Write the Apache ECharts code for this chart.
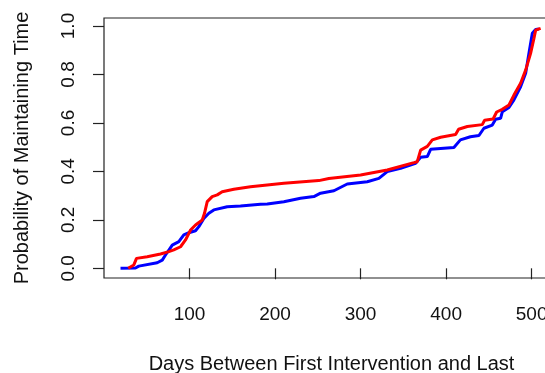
<!DOCTYPE html>
<html>
<head>
<meta charset="utf-8">
<script src="https://cdn.jsdelivr.net/npm/echarts@6/dist/echarts.min.js"></script>
<style>html,body{margin:0;padding:0;background:#fff}#c{width:545px;height:373px}</style>
</head>
<body>
<div id="c"></div>
<script>
const xTicks = [100, 200, 300, 400, 500];
const yTicks = [0, 0.2, 0.4, 0.6, 0.8, 1.0];

const blueX = [19.3, 36.8, 40.7, 62.2, 68.1, 71.9, 79.8, 87.5, 93.3, 99.2, 107.0, 110.9, 116.7, 122.6, 128.4, 144.1, 159.6, 183.0, 190.9, 210.3, 229.8, 245.4, 253.2, 268.8, 284.4, 307.8, 321.4, 331.2, 346.8, 364.3, 370.2, 378.0, 381.9, 409.1, 416.7, 428.4, 438.4, 444.2, 454.0, 457.9, 463.7, 465.7, 473.5, 479.3, 487.1, 493.0, 496.8, 500.8, 504.7, 508.5];
const blueY = [0.000, 0.001, 0.009, 0.023, 0.034, 0.055, 0.096, 0.110, 0.138, 0.147, 0.155, 0.172, 0.206, 0.227, 0.241, 0.254, 0.257, 0.264, 0.265, 0.275, 0.289, 0.296, 0.310, 0.320, 0.348, 0.357, 0.371, 0.399, 0.413, 0.433, 0.458, 0.461, 0.491, 0.499, 0.530, 0.543, 0.548, 0.578, 0.591, 0.615, 0.619, 0.646, 0.664, 0.695, 0.749, 0.805, 0.887, 0.970, 0.986, 0.988];

const redX = [28.3, 34.9, 38.0, 50.5, 66.1, 75.8, 81.6, 89.5, 95.3, 101.2, 107.0, 114.9, 117.5, 120.7, 126.5, 132.4, 138.2, 151.8, 171.3, 210.3, 251.2, 262.9, 300.0, 331.2, 362.3, 366.3, 370.2, 378.0, 383.9, 393.6, 411.1, 414.6, 424.8, 442.3, 445.0, 455.0, 459.1, 465.7, 473.5, 479.3, 487.1, 493.0, 498.8, 502.7, 504.7, 510.5];
const redY = [0.000, 0.014, 0.041, 0.048, 0.059, 0.069, 0.076, 0.089, 0.117, 0.158, 0.179, 0.199, 0.227, 0.275, 0.296, 0.303, 0.316, 0.326, 0.337, 0.351, 0.362, 0.371, 0.385, 0.406, 0.436, 0.440, 0.488, 0.503, 0.530, 0.541, 0.552, 0.574, 0.585, 0.593, 0.611, 0.616, 0.645, 0.656, 0.674, 0.715, 0.764, 0.818, 0.887, 0.949, 0.983, 0.990];

const xTitle = 'Days Between First Intervention and Last';
const yTitle = 'Probability of Maintaining Time';

const pairs = (xs, ys) => xs.map((x, i) => [x, ys[i]]);
const font = 'Liberation Sans, Arial, Helvetica, sans-serif';
const ink = '#222';

const chart = echarts.init(document.getElementById('c'), null, {renderer: 'canvas'});
chart.setOption({
  animation: false,
  backgroundColor: '#fff',
  grid: {
    left: 104, top: 18, bottom: 95, right: -14,
    show: true, borderColor: ink, borderWidth: 1.2, backgroundColor: 'transparent',
    containLabel: false, outerBoundsMode: 'none'
  },
  xAxis: {
    type: 'value', min: 0, max: 532,
    axisLine: {show: false},
    splitLine: {show: false},
    axisTick: {show: true, inside: false, length: 11, customValues: xTicks, lineStyle: {color: ink, width: 1.2}},
    axisLabel: {customValues: xTicks, margin: 27, fontSize: 19, fontFamily: font, color: '#111', hideOverlap: false},
    name: xTitle, nameLocation: 'middle', nameGap: 76,
    nameTextStyle: {fontSize: 20, fontFamily: font, color: '#111'}
  },
  yAxis: {
    type: 'value', min: -0.04, max: 1.033,
    axisLine: {show: false},
    splitLine: {show: false},
    axisTick: {show: true, inside: false, length: 11, customValues: yTicks, lineStyle: {color: ink, width: 1.2}},
    axisLabel: {customValues: yTicks, rotate: 90, margin: 26, fontSize: 19, fontFamily: font, color: '#111',
      formatter: v => Number(v).toFixed(1), hideOverlap: false},
    name: yTitle, nameLocation: 'middle', nameGap: 72, nameRotate: 90,
    nameTextStyle: {fontSize: 20, fontFamily: font, color: '#111'}
  },
  series: [
    {type: 'line', data: pairs(blueX, blueY), showSymbol: false, symbol: 'none',
     lineStyle: {color: '#0000ff', width: 3}, itemStyle: {color: '#0000ff'}, z: 2},
    {type: 'line', data: pairs(redX, redY), showSymbol: false, symbol: 'none',
     lineStyle: {color: '#ff0000', width: 3}, itemStyle: {color: '#ff0000'}, z: 3}
  ]
});
</script>
</body>
</html>
